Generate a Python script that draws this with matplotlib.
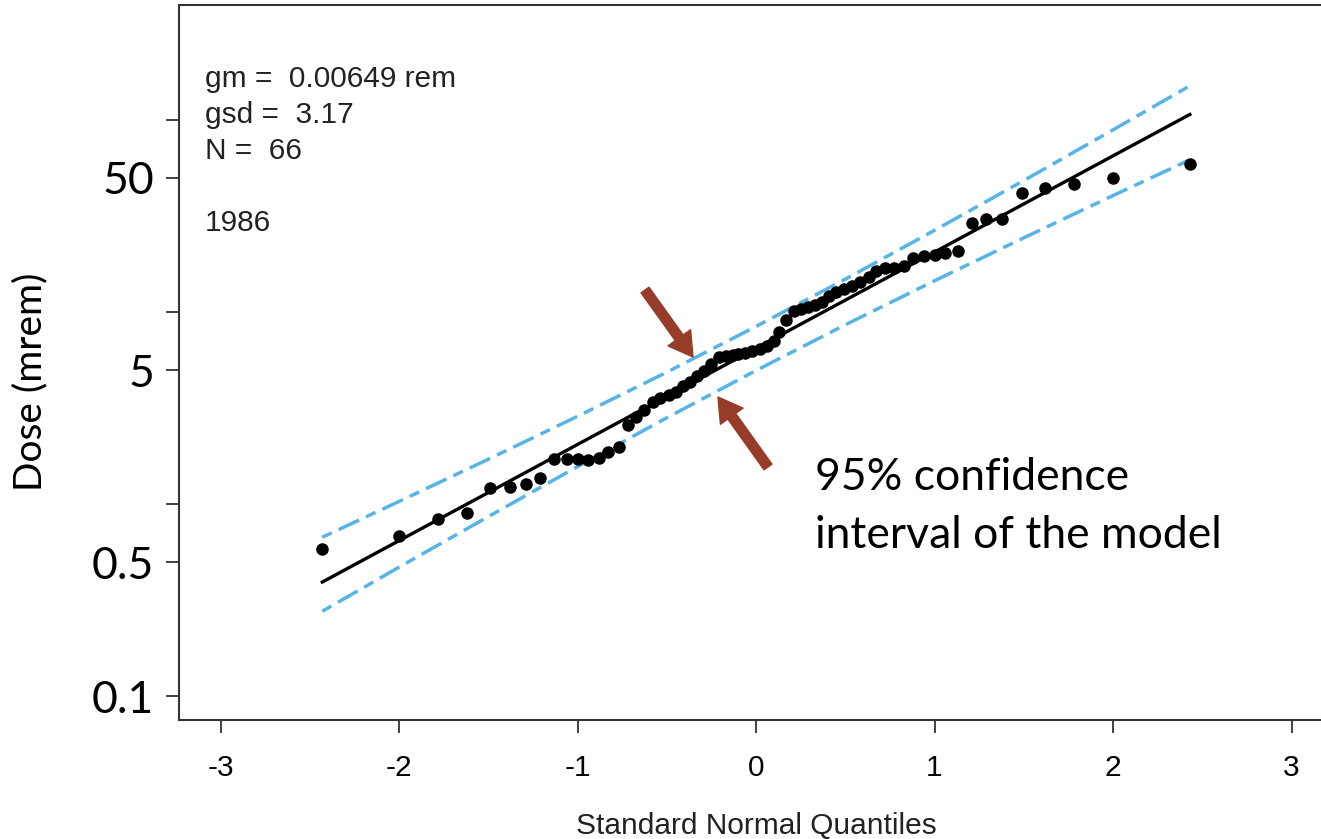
import matplotlib
matplotlib.use('Agg')
import matplotlib.pyplot as plt
import numpy as np

plt.rcParams['axes.unicode_minus'] = False

# normal quantiles of the 66 doses (x) and the doses in mrem (y)
z = [-2.43, -2.00, -1.78, -1.62, -1.49, -1.38, -1.29, -1.21, -1.13, -1.06, -1.00,
     -0.94, -0.88, -0.83, -0.77, -0.72, -0.67, -0.63, -0.58, -0.54, -0.49, -0.45,
     -0.41, -0.37, -0.33, -0.29, -0.25, -0.21, -0.17, -0.13, -0.10, -0.06, -0.02,
     0.02, 0.06, 0.10, 0.13, 0.17, 0.21, 0.25, 0.29, 0.33, 0.37, 0.41, 0.45,
     0.49, 0.54, 0.58, 0.63, 0.67, 0.72, 0.77, 0.83, 0.88, 0.94, 1.00, 1.06,
     1.13, 1.21, 1.29, 1.38, 1.49, 1.62, 1.78, 2.00, 2.43]
dose = [0.585, 0.68, 0.84, 0.90, 1.21, 1.23, 1.27, 1.37, 1.72, 1.72, 1.72,
        1.70, 1.74, 1.87, 1.99, 2.59, 2.85, 3.10, 3.41, 3.57, 3.71, 3.84,
        4.13, 4.33, 4.65, 4.94, 5.37, 5.85, 5.92, 5.99, 6.06, 6.13, 6.28,
        6.43, 6.67, 7.08, 7.88, 9.11, 10.1, 10.4, 10.6, 10.9, 11.3, 12.1, 12.7,
        13.2, 13.7, 14.4, 15.2, 16.4, 17.0, 17.0, 17.4, 19.2, 19.6, 19.9, 20.3,
        20.8, 29.2, 30.6, 30.6, 41.8, 44.4, 46.5, 50.0, 59.2]

# fitted lognormal model
gm = 6.49    # mrem
gsd = 3.17
z_fit = np.array([-2.43, 2.43])

# 95% confidence band of the model (mrem)
z_band = [-2.43, -2.0, -1.5, -1.0, -0.5, 0.0, 0.5, 1.0, 1.5, 2.0, 2.43]
band_hi = [0.673, 1.034, 1.715, 2.87, 4.87, 8.43, 14.86, 26.7, 48.5, 89.1, 151]
band_lo = [0.277, 0.470, 0.862, 1.57, 2.82, 4.97, 8.60, 14.58, 24.4, 40.5, 62.2]

y_ticks = [0.1, 0.5, 1, 5, 10, 50, 100]
y_labels = ['0.1', '0.5', '', '5', '', '50', '']
x_ticks = [-3, -2, -1, 0, 1, 2, 3]

fig = plt.figure(figsize=(13.21, 8.39), dpi=100)
ax = fig.add_axes([178.6 / 1321, 119 / 839, 1156.7 / 1321, 715 / 839])

blue = '#56B4E9'
ax.plot(z_band, band_hi, color=blue, lw=2.5, ls=(0, (3, 2.2, 6.5, 2.2)))
ax.plot(z_band, band_lo, color=blue, lw=2.5, ls=(0, (3, 2.2, 6.5, 2.2)))
ax.plot(z_fit, gm * gsd ** z_fit, color='black', lw=2.4)
ax.plot(z, dose, 'o', color='black', markersize=8)

ax.set_yscale('log')
ax.set_xlim(-3.235, 3.245)
ax.set_ylim(0.0752, 398)
ax.set_yticks(y_ticks)
ax.set_yticklabels(y_labels, fontsize=32, family='Lato')
ax.minorticks_off()
ax.set_xticks(x_ticks)
ax.set_xticklabels([str(t) for t in x_ticks], fontsize=21.5, family='Liberation Sans')
ax.tick_params(axis='y', length=9.5, width=1.3, color='#333333', pad=8)
ax.tick_params(axis='x', length=9.5, width=1.3, color='#333333', pad=15)
for s in ax.spines.values():
    s.set_linewidth(1.5)
    s.set_color('#333333')

ax.set_xlabel('Standard Normal Quantiles', fontsize=21.5, family='Liberation Sans', color='#222222')
ax.xaxis.set_label_coords(0.4992, -0.148)
ax.xaxis.label.set_va('center')
ax.set_ylabel('Dose (mrem)', fontsize=28, family='Lato')
ax.yaxis.set_label_coords(-0.1285, 0.473)
ax.yaxis.label.set_va('center')

info = ['gm =  0.00649 rem', 'gsd =  3.17', 'N =  66']
for i, t in enumerate(info):
    ax.text(0.0228, 0.896 - 0.05 * i, t, transform=ax.transAxes, va='center',
            fontsize=21.5, family='Liberation Sans', color='#222222')
ax.text(0.0228, 0.695, '1986', transform=ax.transAxes, va='center',
        fontsize=21.5, family='Liberation Sans', color='#222222')

# arrows pointing at the band
brown = '#963C28'
arrow = dict(arrowstyle='simple,head_width=2.0,head_length=1.7,tail_width=0.7',
             color=brown, shrinkA=0, shrinkB=0)
ax.annotate('', xy=(693, 839 - 357), xytext=(645, 839 - 290),
            xycoords='figure pixels', textcoords='figure pixels', arrowprops=arrow)
ax.annotate('', xy=(718, 839 - 397), xytext=(768, 839 - 467),
            xycoords='figure pixels', textcoords='figure pixels', arrowprops=arrow)
note = ['95% confidence', 'interval of the model']
for i, t in enumerate(note):
    fig.text(815 / 1321, (839 - 477 - 58 * i) / 839, t,
             fontsize=32, family='Lato', va='center', ha='left')

fig.savefig('out.png', dpi=100)
